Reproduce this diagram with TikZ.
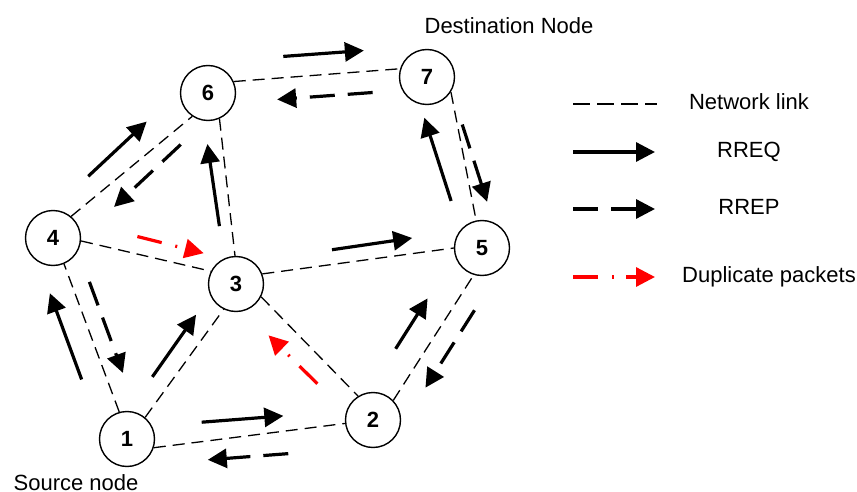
\documentclass[tikz,border=0pt]{standalone}
\usepackage{fontspec}
\setmainfont{Liberation Sans}
\usetikzlibrary{calc,arrows.meta}

\begin{document}
\begin{tikzpicture}[x=0.5pt,y=-0.5pt,
		host/.style={circle, draw=black, line width=0.7pt, fill=white, minimum size=27.5pt, inner sep=0pt, font=\fontsize{11}{13}\selectfont\bfseries},
		link/.style={line width=0.65pt, dash pattern=on 6pt off 3.5pt},
		rreq/.style={line width=1.6pt, -{Triangle[length=9.5pt,width=9.5pt]}},
		rrep/.style={rreq, dash pattern=on 12.5pt off 6.5pt},
		dup/.style={rreq, red, dash pattern=on 12.5pt off 7pt on 1pt off 6pt},
		caption/.style={anchor=base, font=\fontsize{11}{13}\selectfont}
	]
	\useasboundingbox (0,0) rectangle (857,492);
	% hosts of the network
	\node[host] (n1) at (127,439) {1};
	\node[host] (n2) at (373,420) {2};
	\node[host] (n3) at (236,284) {3};
	\node[host] (n4) at (53,238) {4};
	\node[host] (n5) at (482,248) {5};
	\node[host] (n6) at (208,93) {6};
	\node[host] (n7) at (427,77) {7};
	\node[caption] (dest) at (509,34) {Destination Node};
	\node[caption] (src) at (76,490) {Source node};
	% network links
	\draw[link] (n1.342) -- (n2.187);
	\draw[link] (n1.106) -- (n4.293);
	\draw[link] (n1.50) -- (n3.244);
	\draw[link] (n4.50) -- (n6.236);
	\draw[link] (n4.354) -- (n3.153);
	\draw[link] (n6.294) -- (n3.92);
	\draw[link] (n6.24) -- (n7.163);
	\draw[link] (n7.328) -- (n5.102);
	\draw[link] (n3.21) -- (n5.180);
	\draw[link] (n3.333) -- (n2.122);
	\draw[link] (n2.44) -- (n5.253);
	% route requests
	\draw[rreq] ($(n1)!.307!(n2)!5.5pt!90:(n2)$) -- ($(n1)!.639!(n2)!5.5pt!90:(n2)$);
	\draw[rreq] ($(n1)!.334!(n4)!11pt!90:(n4)$) -- ($(n1)!.763!(n4)!11pt!90:(n4)$);
	\draw[rreq] ($(n1)!.345!(n3)!7.5pt!90:(n3)$) -- ($(n1)!.746!(n3)!7.5pt!90:(n3)$);
	\draw[rreq] ($(n4)!.320!(n6)!10.5pt!90:(n6)$) -- ($(n4)!.697!(n6)!10.5pt!90:(n6)$);
	\draw[rreq] ($(n3)!.309!(n6)!4pt!90:(n6)$) -- ($(n3)!.739!(n6)!4pt!90:(n6)$);
	\draw[rreq] ($(n3)!.402!(n5)!10pt!90:(n5)$) -- ($(n3)!.728!(n5)!10pt!90:(n5)$);
	\draw[rreq] ($(n2)!.355!(n5)!9.5pt!90:(n5)$) -- ($(n2)!.648!(n5)!9.5pt!90:(n5)$);
	\draw[rreq] ($(n6)!.354!(n7)!15.5pt!90:(n7)$) -- ($(n6)!.722!(n7)!15.5pt!90:(n7)$);
	\draw[rreq] ($(n5)!.302!(n7)!7.5pt!90:(n7)$) -- ($(n5)!.789!(n7)!7.5pt!90:(n7)$);
	% route replies
	\draw[rrep] ($(n7)!.252!(n6)!5.75pt!90:(n6)$) -- ($(n7)!.688!(n6)!5.75pt!90:(n6)$);
	\draw[rrep] ($(n7)!.312!(n5)!9.5pt!90:(n5)$) -- ($(n7)!.764!(n5)!9.5pt!90:(n5)$);
	\draw[rrep] ($(n6)!.260!(n4)!9.5pt!90:(n4)$) -- ($(n6)!.690!(n4)!9.5pt!90:(n4)$);
	\draw[rrep] ($(n4)!.251!(n1)!9.5pt!90:(n1)$) -- ($(n4)!.704!(n1)!9.5pt!90:(n1)$);
	\draw[rrep] ($(n5)!.278!(n2)!13.5pt!90:(n2)$) -- ($(n5)!.728!(n2)!13.5pt!90:(n2)$);
	\draw[rrep] ($(n2)!.353!(n1)!13.5pt!90:(n1)$) -- ($(n2)!.680!(n1)!13.5pt!90:(n1)$);
	% duplicates
	\draw[dup] ($(n4)!.432!(n3)!11pt!90:(n3)$) -- ($(n4)!.794!(n3)!11pt!90:(n3)$);
	\draw[dup] ($(n2)!.337!(n3)!6.75pt!90:(n3)$) -- ($(n2)!.693!(n3)!6.75pt!90:(n3)$);
	% legend
	\coordinate (keylinka) at (573,104);
	\coordinate (keylinkb) at (657,104);
	\coordinate (keyreqa) at (573,152);
	\coordinate (keyreqb) at (655,152);
	\coordinate (keyrepa) at (573,209);
	\coordinate (keyrepb) at (655,209);
	\coordinate (keydupa) at (573,277);
	\coordinate (keydupb) at (655,277);
	\draw[link, dash pattern=on 8.5pt off 3.5pt] (keylinka) -- (keylinkb);
	\draw[rreq] (keyreqa) -- (keyreqb);
	\draw[rrep] (keyrepa) -- (keyrepb);
	\draw[dup] (keydupa) -- (keydupb);
	\node[caption] (keylink) at (749,110) {Network link};
	\node[caption] (keyreq) at (749,158) {RREQ};
	\node[caption] (keyrep) at (749,214) {RREP};
	\node[caption] (keydup) at (769,282) {Duplicate packets};
\end{tikzpicture}
\end{document}
